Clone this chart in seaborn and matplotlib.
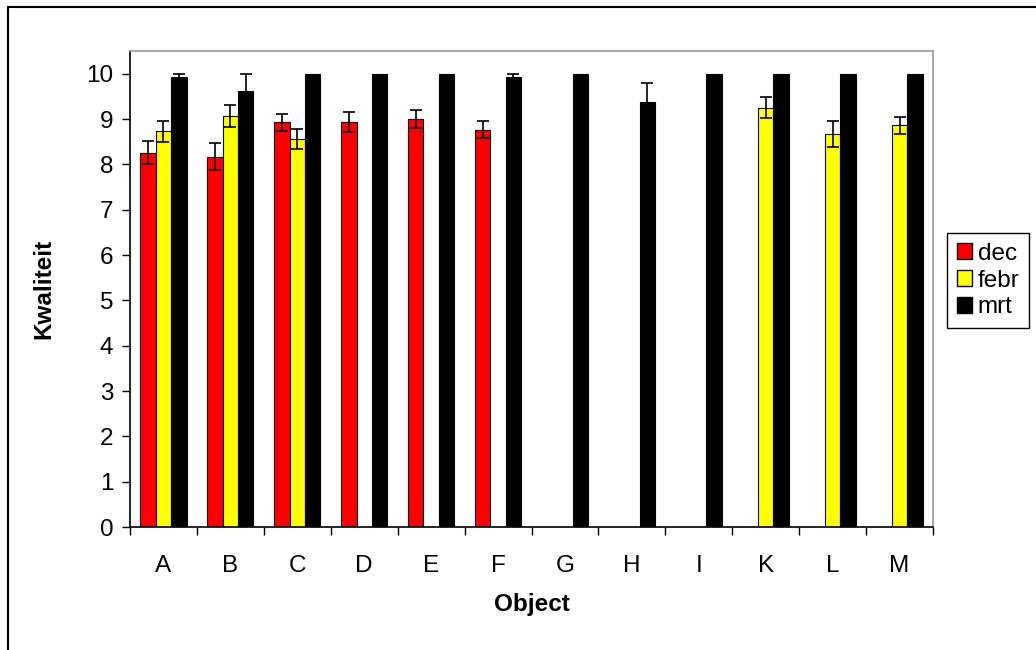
import numpy as np
import pandas as pd
import matplotlib
matplotlib.use('Agg')
import matplotlib.pyplot as plt
from matplotlib.patches import Rectangle
import seaborn as sns

# Data
objects = ['A', 'B', 'C', 'D', 'E', 'F', 'G', 'H', 'I', 'K', 'L', 'M']
months = ['dec', 'febr', 'mrt']
dec = [8.26, 8.17, 8.93, 8.93, 9.0, 8.76, np.nan, np.nan, np.nan, np.nan, np.nan, np.nan]
febr = [8.73, 9.06, 8.56, np.nan, np.nan, np.nan, np.nan, np.nan, np.nan, 9.25, 8.67, 8.86]
mrt = [9.92, 9.62, 10.0, 10.0, 10.0, 9.93, 10.0, 9.38, 10.0, 10.0, 10.0, 10.0]
dec_err = [0.25, 0.3, 0.19, 0.22, 0.2, 0.19, 0, 0, 0, 0, 0, 0]
febr_err = [0.23, 0.24, 0.22, 0, 0, 0, 0, 0, 0, 0.23, 0.29, 0.18]
mrt_err = [0.08, 0.38, 0, 0, 0, 0.07, 0, 0.41, 0, 0, 0, 0]
colors = ['#FF0000', '#FFFF00', '#000000']

## build long table
rows = []
for m, vals, errs in zip(months, [dec, febr, mrt], [dec_err, febr_err, mrt_err]):
    for o, v, e in zip(objects, vals, errs):
        rows.append({'Object': o, 'maand': m, 'Kwaliteit': v, 'err': e})
df = pd.DataFrame(rows)
df_plot = df.dropna(subset=['Kwaliteit'])

sns.set_theme(style='white')
plt.rcParams['font.family'] = ['Liberation Sans', 'DejaVu Sans']
plt.rcParams['text.color'] = 'black'
plt.rcParams['axes.labelcolor'] = 'black'
plt.rcParams['xtick.color'] = 'black'
plt.rcParams['ytick.color'] = 'black'
fs = 17.5

fig = plt.figure(figsize=(10.36, 6.5), dpi=100)
ax = fig.add_axes([130 / 1036, 1 - 527 / 650, (933 - 130) / 1036, (527 - 51) / 650])

sns.barplot(data=df_plot, x='Object', y='Kwaliteit', hue='maand', order=objects,
            hue_order=months, palette=colors, saturation=1, width=0.69, errorbar=None,
            edgecolor='black', linewidth=0.8, ax=ax, legend=False)

# error bars on top of each bar, positions taken from the drawn patches
for container, m in zip(ax.containers, months):
    sub = df_plot[df_plot['maand'] == m]
    for bar, (_, r) in zip(container, sub.iterrows()):
        if r['err'] > 0:
            cx = bar.get_x() + bar.get_width() / 2
            ax.errorbar(cx, r['Kwaliteit'], yerr=r['err'], fmt='none', ecolor='black',
                        elinewidth=1.2, capsize=4.5, capthick=1.2, zorder=5)

ax.set_ylim(0, 10.5)
ax.set_xlim(-0.5, len(objects) - 0.5)
ax.set_yticks(range(0, 11))
ax.set_xticks(np.arange(-0.5, len(objects)), minor=True)
ax.tick_params(axis='x', which='major', length=0, labelsize=fs, pad=20)
ax.tick_params(axis='x', which='minor', length=6, width=1, color='black', direction='out', bottom=True)
ax.tick_params(axis='y', length=6, width=1, color='black', direction='out', left=True, labelsize=fs, pad=6)

ax.set_xlabel('Object', fontsize=fs, fontweight='bold', labelpad=12)
ax.set_ylabel('Kwaliteit', fontsize=fs, fontweight='bold', labelpad=22)

for s in ['left', 'bottom']:
    ax.spines[s].set_color('black')
    ax.spines[s].set_linewidth(1.2)
for s in ['top', 'right']:
    ax.spines[s].set_color('#999999')
    ax.spines[s].set_linewidth(1.2)

handles = [Rectangle((0, 0), 1, 1, facecolor=c, edgecolor='black', linewidth=1) for c in colors]
fig.legend(handles, months, loc='upper left', bbox_to_anchor=(947 / 1036, 1 - 233 / 650),
           fontsize=fs, frameon=True, fancybox=False, edgecolor='black', framealpha=1,
           handlelength=0.62, handleheight=0.62, handletextpad=0.25, labelspacing=0.2,
           borderpad=0.4, borderaxespad=0)

# outer chart frame (cut off at right and bottom)
fig.patches.append(Rectangle((8 / 1036, -0.05), 1.1, 1 - 7 / 650 + 0.05, transform=fig.transFigure,
                             fill=False, edgecolor='black', linewidth=1.5, clip_on=False))

fig.savefig('out.png', dpi=100)
